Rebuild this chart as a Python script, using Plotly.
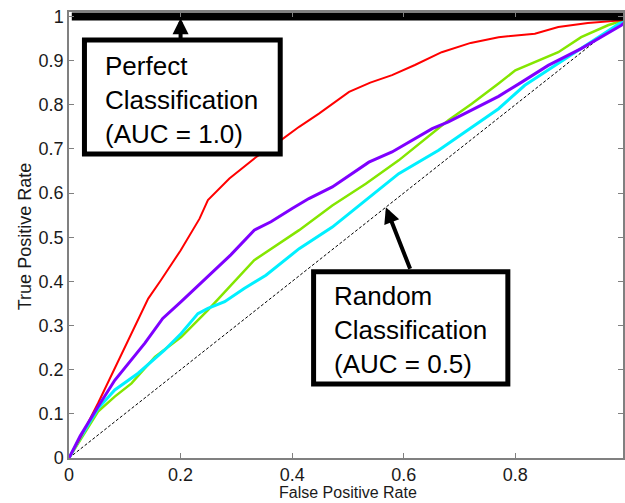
import plotly.graph_objects as go

# ---- data ----
red_fpr = [0, 0.02, 0.052, 0.1, 0.142, 0.165, 0.2, 0.234, 0.249, 0.2875, 0.335, 0.38, 0.4125,
           0.448, 0.502, 0.54, 0.579, 0.62, 0.668, 0.72, 0.77, 0.835, 0.877, 0.93, 0.99, 1.0]
red_tpr = [0, 0.045, 0.124, 0.25, 0.361, 0.403, 0.47, 0.542, 0.584, 0.633, 0.681, 0.72, 0.75,
           0.78, 0.829, 0.85, 0.867, 0.89, 0.919, 0.94, 0.953, 0.961, 0.976, 0.985, 0.991, 1.0]

purple_fpr = [0, 0.02, 0.052, 0.082, 0.136, 0.168, 0.201, 0.243, 0.29, 0.332, 0.362, 0.4, 0.43,
              0.472, 0.5375, 0.579, 0.651, 0.68, 0.74, 0.77, 0.81, 0.859, 0.918, 0.99, 1.0]
purple_tpr = [0, 0.05, 0.116, 0.176, 0.26, 0.316, 0.354, 0.403, 0.46, 0.516, 0.535, 0.565, 0.5875,
              0.614, 0.67, 0.693, 0.746, 0.761, 0.799, 0.819, 0.85, 0.889, 0.927, 0.98, 0.99]

green_fpr = [0, 0.02, 0.052, 0.082, 0.112, 0.154, 0.201, 0.249, 0.299, 0.332, 0.4125, 0.472,
             0.532, 0.591, 0.68, 0.722, 0.77, 0.80, 0.877, 0.918, 0.966, 0.99, 1.0]
green_tpr = [0, 0.04, 0.105, 0.139, 0.169, 0.229, 0.274, 0.335, 0.403, 0.448, 0.516, 0.572,
             0.621, 0.674, 0.765, 0.802, 0.848, 0.878, 0.919, 0.953, 0.98, 0.99, 1.0]

cyan_fpr = [0, 0.02, 0.052, 0.082, 0.124, 0.171, 0.201, 0.231, 0.249, 0.279, 0.314, 0.353, 0.4125,
            0.472, 0.532, 0.591, 0.6625, 0.68, 0.722, 0.77, 0.817, 0.877, 0.93, 0.99, 1.0]
cyan_tpr = [0, 0.045, 0.112, 0.154, 0.192, 0.244, 0.282, 0.327, 0.339, 0.354, 0.384, 0.414, 0.474,
            0.523, 0.584, 0.644, 0.697, 0.712, 0.75, 0.791, 0.844, 0.893, 0.938, 0.987, 1.0]

random_fpr = [0, 1]
random_tpr = [0, 1]
perfect_fpr = [0.005, 1]
perfect_tpr = [1, 1]

x_ticks = [0, 0.2, 0.4, 0.6, 0.8]
x_tick_labels = ["0", "0.2", "0.4", "0.6", "0.8"]
y_ticks = [0, 0.1, 0.2, 0.3, 0.4, 0.5, 0.6, 0.7, 0.8, 0.9, 1.0]
y_tick_labels = ["0", "0.1", "0.2", "0.3", "0.4", "0.5", "0.6", "0.7", "0.8", "0.9", "1"]

perfect_text = "Perfect<br>Classification<br>(AUC = 1.0)"
random_text = "Random<br>Classification<br>(AUC = 0.5)"

FONT = "Liberation Sans, Arial, sans-serif"

fig = go.Figure()
fig.add_trace(go.Scatter(x=random_fpr, y=random_tpr, mode="lines",
                         line=dict(color="black", width=1, dash="3px,2px")))
fig.add_trace(go.Scatter(x=green_fpr, y=green_tpr, mode="lines",
                         line=dict(color="#84E600", width=2.5)))
fig.add_trace(go.Scatter(x=cyan_fpr, y=cyan_tpr, mode="lines",
                         line=dict(color="#00F0FF", width=3)))
fig.add_trace(go.Scatter(x=red_fpr, y=red_tpr, mode="lines",
                         line=dict(color="#FF0000", width=2)))
fig.add_trace(go.Scatter(x=purple_fpr, y=purple_tpr, mode="lines",
                         line=dict(color="#7F00FF", width=3)))
fig.add_trace(go.Scatter(x=perfect_fpr, y=perfect_tpr, mode="lines",
                         line=dict(color="black", width=8)))

# annotation boxes
fig.add_shape(type="rect", xref="x", yref="y", x0=0.0277, x1=0.3786, y0=0.6884, y1=0.9466,
              line=dict(color="black", width=5), fillcolor="white", layer="above")
fig.add_shape(type="rect", xref="x", yref="y", x0=0.4384, x1=0.7866, y0=0.1676, y1=0.4219,
              line=dict(color="black", width=5), fillcolor="white", layer="above")

fig.add_annotation(x=0.0607, y=0.811, xref="x", yref="y", text=perfect_text, showarrow=False,
                   xanchor="left", yanchor="middle", align="left",
                   font=dict(family=FONT, size=26, color="black"))
fig.add_annotation(x=0.471, y=0.29, xref="x", yref="y", text=random_text, showarrow=False,
                   xanchor="left", yanchor="middle", align="left",
                   font=dict(family=FONT, size=26, color="black"))

# arrows
fig.add_annotation(x=0.2, y=0.996, ax=0.2, ay=0.945, xref="x", yref="y", axref="x", ayref="y",
                   text="", showarrow=True, arrowhead=2, arrowwidth=4, arrowsize=0.8,
                   arrowcolor="black")
fig.add_annotation(x=0.568, y=0.568, ax=0.6125, ay=0.425, xref="x", yref="y", axref="x", ayref="y",
                   text="", showarrow=True, arrowhead=2, arrowwidth=4, arrowsize=0.8,
                   arrowcolor="black")

# axis titles
fig.add_annotation(x=0.5, y=0, xref="x", yref="paper", yshift=-34, text="False Positive Rate",
                   showarrow=False, xanchor="center", yanchor="middle",
                   font=dict(family=FONT, size=16, color="#1a1a1a"))
fig.add_annotation(x=0, y=0.5, xref="paper", yref="y", xshift=-44, text="True Positive Rate",
                   showarrow=False, textangle=-90, xanchor="center", yanchor="middle",
                   font=dict(family=FONT, size=18, color="#1a1a1a"))

axis_common = dict(showgrid=False, zeroline=False, showline=True, linecolor="#808080",
                   linewidth=1.5, ticks="inside", ticklen=5, tickcolor="#808080",
                   mirror="ticks", tickfont=dict(family=FONT, size=18, color="#1a1a1a"))

fig.update_xaxes(range=[0, 0.993], tickvals=x_ticks, ticktext=x_tick_labels, **axis_common)
fig.update_yaxes(range=[0, 1.01], tickvals=y_ticks, ticktext=y_tick_labels, **axis_common)

fig.update_layout(width=625, height=503, margin=dict(l=69, r=0, t=12, b=45),
                  paper_bgcolor="white", plot_bgcolor="white", showlegend=False)

fig.write_html("out.html", config={"displayModeBar": False},
               post_script="document.body.style.margin='0';document.body.style.overflow='hidden';")
